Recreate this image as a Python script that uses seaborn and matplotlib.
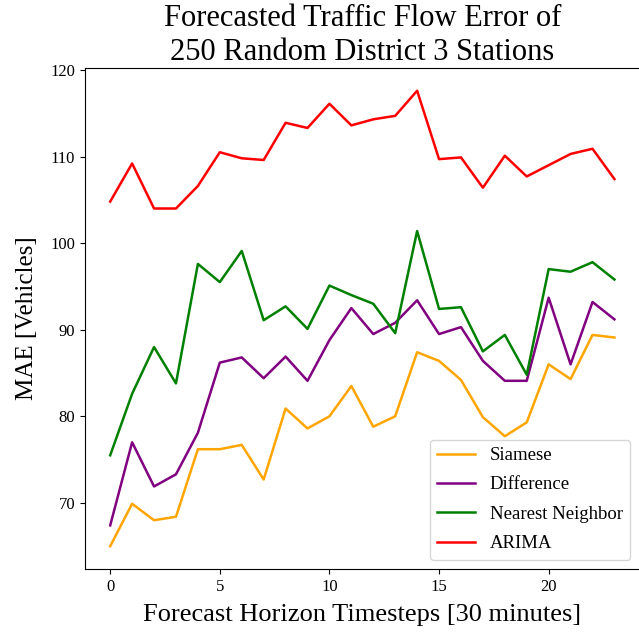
import pandas as pd
import matplotlib
matplotlib.use("Agg")
import matplotlib.pyplot as plt
import seaborn as sns

# Data (MAE per forecast horizon step)
steps = list(range(24))
siamese = [65.0, 69.9, 68.0, 68.4, 76.2, 76.2, 76.7, 72.7, 80.9, 78.6, 80.0, 83.5,
           78.8, 80.0, 87.4, 86.4, 84.2, 79.9, 77.7, 79.3, 86.0, 84.3, 89.4, 89.1]
difference = [67.4, 77.0, 71.9, 73.3, 78.1, 86.2, 86.8, 84.4, 86.9, 84.1, 88.8, 92.5,
              89.5, 90.8, 93.4, 89.5, 90.3, 86.4, 84.1, 84.1, 93.7, 86.0, 93.2, 91.2]
nearest = [75.5, 82.6, 88.0, 83.8, 97.6, 95.5, 99.1, 91.1, 92.7, 90.1, 95.1, 94.0,
           93.0, 89.6, 101.4, 92.4, 92.6, 87.5, 89.4, 84.8, 97.0, 96.7, 97.8, 95.8]
arima = [104.8, 109.2, 104.0, 104.0, 106.6, 110.5, 109.8, 109.6, 113.9, 113.3, 116.1, 113.6,
         114.3, 114.7, 117.6, 109.7, 109.9, 106.4, 110.1, 107.7, 109.0, 110.3, 110.9, 107.4]

models = ["Siamese", "Difference", "Nearest Neighbor", "ARIMA"]
colors = ["orange", "purple", "green", "red"]

df = pd.DataFrame({
    "step": steps * 4,
    "mae": siamese + difference + nearest + arima,
    "model": [m for m in models for _ in steps],
})

plt.rcParams["font.family"] = ["Liberation Serif", "DejaVu Serif"]

fig = plt.figure(figsize=(6.39, 6.37), dpi=100)
# right edge of the axes runs off the canvas, as in the original crop
ax = fig.add_axes([0.133, 0.1068, 0.868, 0.7865])

sns.lineplot(data=df, x="step", y="mae", hue="model", hue_order=models,
             palette=colors, linewidth=1.8, ax=ax)

ax.set_title("Forecasted Traffic Flow Error of\n250 Random District 3 Stations", fontsize=22)
ax.set_xlabel("Forecast Horizon Timesteps [30 minutes]", fontsize=19, labelpad=7)
ax.set_ylabel("MAE [Vehicles]", fontsize=18, labelpad=9)
ax.tick_params(labelsize=12)
ax.legend(loc="lower right", fontsize=13.5, labelspacing=0.65)

fig.savefig("out.png", dpi=100)
